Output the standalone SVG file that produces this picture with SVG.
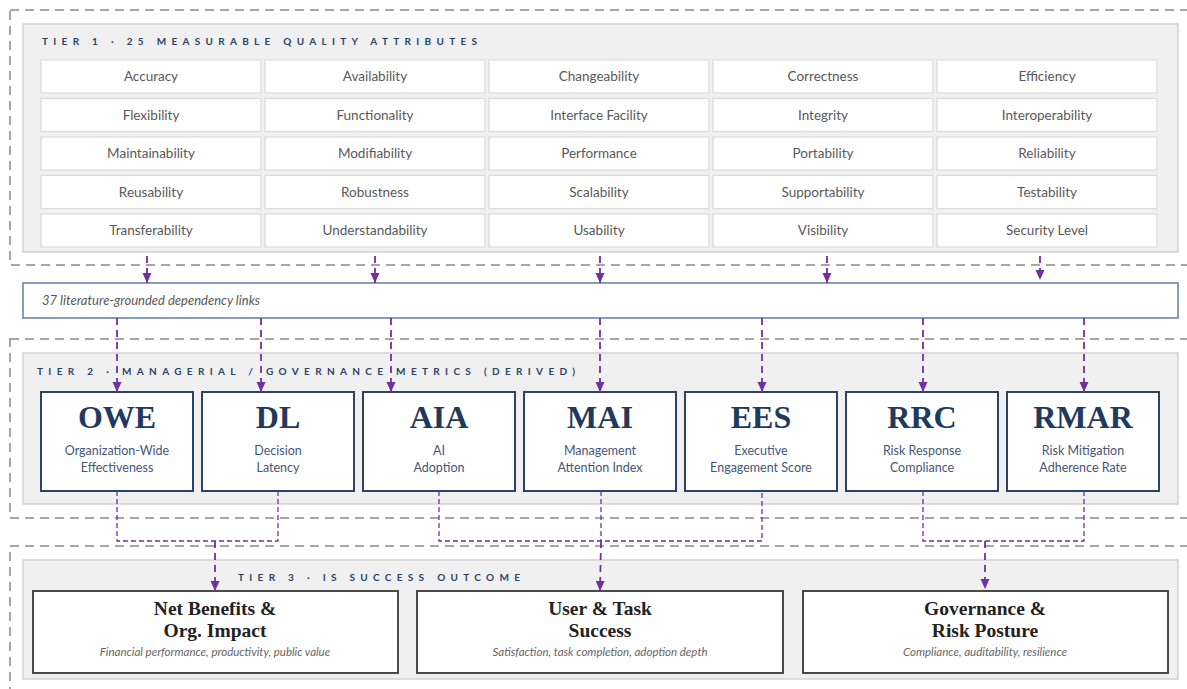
<svg xmlns="http://www.w3.org/2000/svg" width="1187" height="689" viewBox="0 0 1187 689">
<style>
.tierdash{fill:none;stroke:#a6a6a6;stroke-width:2;stroke-dasharray:9 6}
.panel{fill:#f0f0f0;stroke:#d2d2d2;stroke-width:1.5}
.cell{fill:#fff;stroke:#dadada;stroke-width:1.2}
.celltxt{font-family:Lato,"Liberation Sans",sans-serif;font-size:13.5px;fill:#595959;text-anchor:middle}
.ttl{font-family:Lato,"Liberation Sans",sans-serif;font-size:10px;font-weight:bold;fill:#2c4468}
.mbox{fill:#fff;stroke:#2c4468;stroke-width:2}
.abbr{font-family:"Liberation Serif",serif;font-weight:bold;font-size:32px;fill:#1f3a5f;text-anchor:middle}
.sub{font-family:Lato,"Liberation Sans",sans-serif;font-size:12.5px;fill:#44577a;text-anchor:middle}
.obox{fill:#fff;stroke:#4a4a4a;stroke-width:2}
.otitle{font-family:"Liberation Serif",serif;font-weight:bold;font-size:19.5px;fill:#222;text-anchor:middle}
.osub{font-family:Lato,"Liberation Sans",sans-serif;font-style:italic;font-size:11.5px;fill:#666;text-anchor:middle}
.conn{fill:none;stroke:#7030a0;stroke-width:1.8;stroke-dasharray:7 5}
.conn2{fill:none;stroke:#7030a0;stroke-width:1.3;stroke-dasharray:5 3}
</style>
<defs>
<marker id="ah" markerUnits="userSpaceOnUse" markerWidth="10" markerHeight="10" viewBox="0 0 10 10" refX="10" refY="5" orient="auto">
<path d="M0,0.5 L10,5 L0,9.5 z" fill="#7030a0"/>
</marker>
</defs>
<rect width="1187" height="689" fill="#fff"/>

<!-- Tier 1 -->
<g id="tier1">
<rect class="tierdash" x="10" y="10" width="1190" height="255"/>
<rect class="panel" x="23" y="24" width="1155" height="228"/>
<text class="ttl" x="42" y="45" textLength="435" lengthAdjust="spacing">TIER 1 · 25 MEASURABLE QUALITY ATTRIBUTES</text>
</g>
<g id="attributes">
<g id="attr-accuracy"><rect class="cell" x="41" y="60" width="220" height="33"/><text class="celltxt" x="151" y="81">Accuracy</text></g>
<g id="attr-availability"><rect class="cell" x="265" y="60" width="220" height="33"/><text class="celltxt" x="375" y="81">Availability</text></g>
<g id="attr-changeability"><rect class="cell" x="489" y="60" width="220" height="33"/><text class="celltxt" x="599" y="81">Changeability</text></g>
<g id="attr-correctness"><rect class="cell" x="713" y="60" width="220" height="33"/><text class="celltxt" x="823" y="81">Correctness</text></g>
<g id="attr-efficiency"><rect class="cell" x="937" y="60" width="220" height="33"/><text class="celltxt" x="1047" y="81">Efficiency</text></g>

<g id="attr-flexibility"><rect class="cell" x="41" y="98.5" width="220" height="33"/><text class="celltxt" x="151" y="119.5">Flexibility</text></g>
<g id="attr-functionality"><rect class="cell" x="265" y="98.5" width="220" height="33"/><text class="celltxt" x="375" y="119.5">Functionality</text></g>
<g id="attr-interface"><rect class="cell" x="489" y="98.5" width="220" height="33"/><text class="celltxt" x="599" y="119.5">Interface Facility</text></g>
<g id="attr-integrity"><rect class="cell" x="713" y="98.5" width="220" height="33"/><text class="celltxt" x="823" y="119.5">Integrity</text></g>
<g id="attr-interoperability"><rect class="cell" x="937" y="98.5" width="220" height="33"/><text class="celltxt" x="1047" y="119.5">Interoperability</text></g>

<g id="attr-maintainability"><rect class="cell" x="41" y="137" width="220" height="33"/><text class="celltxt" x="151" y="158">Maintainability</text></g>
<g id="attr-modifiability"><rect class="cell" x="265" y="137" width="220" height="33"/><text class="celltxt" x="375" y="158">Modifiability</text></g>
<g id="attr-performance"><rect class="cell" x="489" y="137" width="220" height="33"/><text class="celltxt" x="599" y="158">Performance</text></g>
<g id="attr-portability"><rect class="cell" x="713" y="137" width="220" height="33"/><text class="celltxt" x="823" y="158">Portability</text></g>
<g id="attr-reliability"><rect class="cell" x="937" y="137" width="220" height="33"/><text class="celltxt" x="1047" y="158">Reliability</text></g>

<g id="attr-reusability"><rect class="cell" x="41" y="175.5" width="220" height="33"/><text class="celltxt" x="151" y="196.5">Reusability</text></g>
<g id="attr-robustness"><rect class="cell" x="265" y="175.5" width="220" height="33"/><text class="celltxt" x="375" y="196.5">Robustness</text></g>
<g id="attr-scalability"><rect class="cell" x="489" y="175.5" width="220" height="33"/><text class="celltxt" x="599" y="196.5">Scalability</text></g>
<g id="attr-supportability"><rect class="cell" x="713" y="175.5" width="220" height="33"/><text class="celltxt" x="823" y="196.5">Supportability</text></g>
<g id="attr-testability"><rect class="cell" x="937" y="175.5" width="220" height="33"/><text class="celltxt" x="1047" y="196.5">Testability</text></g>

<g id="attr-transferability"><rect class="cell" x="41" y="214" width="220" height="33"/><text class="celltxt" x="151" y="235">Transferability</text></g>
<g id="attr-understandability"><rect class="cell" x="265" y="214" width="220" height="33"/><text class="celltxt" x="375" y="235">Understandability</text></g>
<g id="attr-usability"><rect class="cell" x="489" y="214" width="220" height="33"/><text class="celltxt" x="599" y="235">Usability</text></g>
<g id="attr-visibility"><rect class="cell" x="713" y="214" width="220" height="33"/><text class="celltxt" x="823" y="235">Visibility</text></g>
<g id="attr-security"><rect class="cell" x="937" y="214" width="220" height="33"/><text class="celltxt" x="1047" y="235">Security Level</text></g>
</g>

<!-- Link bar -->
<g id="linkbar">
<rect x="23" y="283" width="1155" height="35" fill="#fff" stroke="#5f7fa0" stroke-width="1.5"/>
<text x="42" y="305" font-family="Lato,'Liberation Sans',sans-serif" font-style="italic" font-size="13" fill="#595959">37 literature-grounded dependency links</text>
</g>

<!-- Tier 2 -->
<g id="tier2">
<rect class="tierdash" x="10" y="339" width="1190" height="179"/>
<rect class="panel" x="23" y="353" width="1155" height="151"/>
<text class="ttl" x="37" y="375" textLength="538" lengthAdjust="spacing">TIER 2 · MANAGERIAL / GOVERNANCE METRICS (DERIVED)</text>
</g>
<g id="metric-owe"><rect class="mbox" x="41" y="392" width="152" height="99"/><text class="abbr" x="117" y="428">OWE</text><text class="sub" x="117" y="455">Organization-Wide</text><text class="sub" x="117" y="472">Effectiveness</text></g>
<g id="metric-dl"><rect class="mbox" x="202" y="392" width="152" height="99"/><text class="abbr" x="278" y="428">DL</text><text class="sub" x="278" y="455">Decision</text><text class="sub" x="278" y="472">Latency</text></g>
<g id="metric-aia"><rect class="mbox" x="363" y="392" width="152" height="99"/><text class="abbr" x="439" y="428">AIA</text><text class="sub" x="439" y="455">AI</text><text class="sub" x="439" y="472">Adoption</text></g>
<g id="metric-mai"><rect class="mbox" x="524" y="392" width="152" height="99"/><text class="abbr" x="600" y="428">MAI</text><text class="sub" x="600" y="455">Management</text><text class="sub" x="600" y="472">Attention Index</text></g>
<g id="metric-ees"><rect class="mbox" x="685" y="392" width="152" height="99"/><text class="abbr" x="761" y="428">EES</text><text class="sub" x="761" y="455">Executive</text><text class="sub" x="761" y="472">Engagement Score</text></g>
<g id="metric-rrc"><rect class="mbox" x="846" y="392" width="152" height="99"/><text class="abbr" x="922" y="428">RRC</text><text class="sub" x="922" y="455">Risk Response</text><text class="sub" x="922" y="472">Compliance</text></g>
<g id="metric-rmar"><rect class="mbox" x="1007" y="392" width="152" height="99"/><text class="abbr" x="1083" y="428">RMAR</text><text class="sub" x="1083" y="455">Risk Mitigation</text><text class="sub" x="1083" y="472">Adherence Rate</text></g>

<!-- Tier 3 -->
<g id="tier3">
<rect class="tierdash" x="10" y="546" width="1190" height="160"/>
<rect class="panel" x="23" y="560" width="1155" height="119"/>
<text class="ttl" x="238" y="581" textLength="282" lengthAdjust="spacing">TIER 3 · IS SUCCESS OUTCOME</text>
</g>
<g id="outcome-net"><rect class="obox" x="33" y="591" width="365" height="82"/><text class="otitle" x="215" y="615">Net Benefits &amp;</text><text class="otitle" x="215" y="637">Org. Impact</text><text class="osub" x="215" y="656">Financial performance, productivity, public value</text></g>
<g id="outcome-user"><rect class="obox" x="417" y="591" width="366" height="82"/><text class="otitle" x="600" y="615">User &amp; Task</text><text class="otitle" x="600" y="637">Success</text><text class="osub" x="600" y="656">Satisfaction, task completion, adoption depth</text></g>
<g id="outcome-gov"><rect class="obox" x="803" y="591" width="365" height="82"/><text class="otitle" x="985" y="615">Governance &amp;</text><text class="otitle" x="985" y="637">Risk Posture</text><text class="osub" x="985" y="656">Compliance, auditability, resilience</text></g>

<!-- Connectors -->
<g id="connectors">
<line class="conn" x1="147" y1="256" x2="147" y2="283" marker-end="url(#ah)"/>
<line class="conn" x1="375" y1="256" x2="375" y2="283" marker-end="url(#ah)"/>
<line class="conn" x1="600" y1="256" x2="600" y2="283" marker-end="url(#ah)"/>
<line class="conn" x1="827" y1="256" x2="827" y2="283" marker-end="url(#ah)"/>
<line class="conn" x1="1040" y1="256" x2="1040" y2="280" marker-end="url(#ah)"/>

<line class="conn" x1="117" y1="318" x2="117" y2="392" marker-end="url(#ah)"/>
<line class="conn" x1="261" y1="318" x2="261" y2="392" marker-end="url(#ah)"/>
<line class="conn" x1="391" y1="318" x2="391" y2="392" marker-end="url(#ah)"/>
<line class="conn" x1="600" y1="318" x2="600" y2="392" marker-end="url(#ah)"/>
<line class="conn" x1="762" y1="318" x2="762" y2="392" marker-end="url(#ah)"/>
<line class="conn" x1="923" y1="318" x2="923" y2="392" marker-end="url(#ah)"/>
<line class="conn" x1="1084" y1="318" x2="1084" y2="392" marker-end="url(#ah)"/>

<polyline class="conn2" points="117,491 117,541 278,541 278,491"/>
<line class="conn" x1="215" y1="541" x2="215" y2="591" marker-end="url(#ah)"/>
<polyline class="conn2" points="439,491 439,541 762,541 762,491"/>
<line class="conn2" x1="601" y1="491" x2="601" y2="541"/>
<line class="conn" x1="601" y1="541" x2="600" y2="591" marker-end="url(#ah)"/>
<polyline class="conn2" points="923,491 923,541 1084,541 1084,491"/>
<line class="conn" x1="985" y1="541" x2="985" y2="589" marker-end="url(#ah)"/>
</g>
</svg>
